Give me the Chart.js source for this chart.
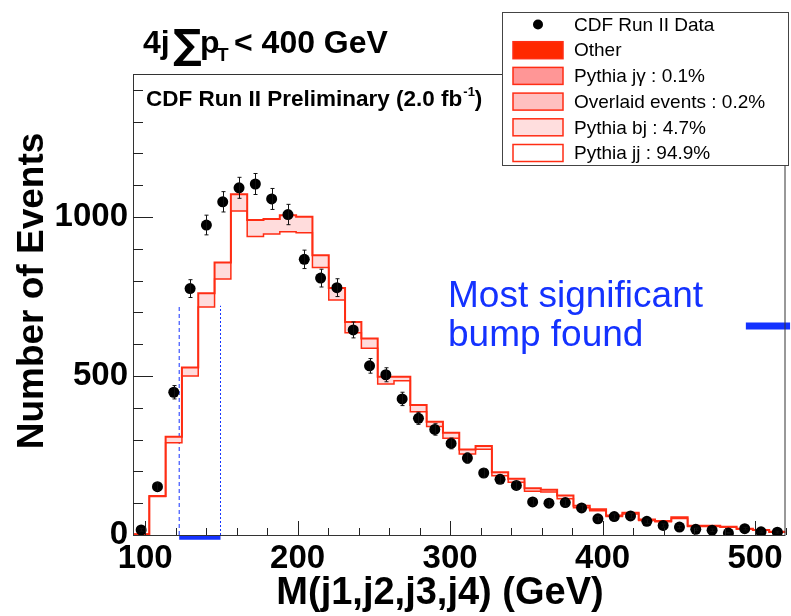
<!DOCTYPE html>
<html>
<head>
<meta charset="utf-8">
<script src="https://cdn.jsdelivr.net/npm/chart.js@4.4.0/dist/chart.umd.min.js"></script>
<style>
  html, body { margin: 0; padding: 0; background: #fff; }
  #wrap { width: 791px; height: 616px; }
</style>
</head>
<body>
<div id="wrap"><canvas id="myChart" width="791" height="616"></canvas></div>
<script>
const FONT = '"Liberation Sans", Arial, Helvetica, sans-serif';

// --- Data ---
// bin edges in GeV (40 bins)
const binEdges = [92, 102.7, 113.4, 124.1, 134.8, 145.5, 156.2, 166.9, 177.6, 188.3,
  199, 209.7, 220.4, 231.1, 241.8, 252.5, 263.2, 273.9, 284.6, 295.3,
  306, 316.7, 327.4, 338.1, 348.8, 359.5, 370.2, 380.9, 391.6, 402.3,
  413, 423.7, 434.4, 445.1, 455.8, 466.5, 477.2, 487.9, 498.6, 509.3, 520];

// CDF Run II data, events per bin, and error bar half-heights
const dataCounts = [16, 152, 449, 775, 975, 1048, 1092, 1104, 1057, 1008,
  867, 808, 778, 645, 532, 504, 428, 367, 332, 288,
  242, 195, 175, 156, 104, 100, 102, 85, 51, 58,
  60, 43, 30, 25, 18, 15, 6, 20, 10, 9];
const dataErrors = [4, 12, 21, 28, 31, 32, 33, 33, 33, 32,
  29, 28, 28, 25, 23, 22, 21, 19, 18, 17,
  16, 14, 13, 12, 10, 10, 10, 9, 7, 8,
  8, 7, 5, 5, 4, 4, 2, 4, 3, 3];

// MC stack: total of all components (top of band) and Pythia jj alone
const mcTotal = [2, 123, 309, 527, 760, 857, 1072, 991, 994, 1006,
  1001, 880, 777, 670, 618, 498, 498, 409, 356, 322,
  269, 280, 197, 177, 147, 142, 124, 92, 81, 61,
  70, 49, 44, 56, 29, 29, 26, 20, 16, 10];
const mcJJ = [2, 121, 290, 500, 717, 805, 1019, 939, 947, 954,
  951, 841, 739, 636, 587, 475, 485, 388, 341, 304,
  255, 270, 186, 166, 138, 135, 114, 86, 76, 58,
  66, 46, 42, 52, 27, 27, 24, 19, 15, 9];

// most significant bump window
const windowEdges = [122.3, 149.4];
const windowTop = 721;
const bumpLevel = 657;
const bumpMarkerX = [494, 523];

const xTickValues = [100, 200, 300, 400, 500];
const yTickValues = [0, 500, 1000];

const legendLabels = ['CDF Run II Data', 'Other', 'Pythia j\u03b3 : 0.1%',
  'Overlaid events : 0.2%', 'Pythia bj : 4.7%', 'Pythia jj : 94.9%'];
const legendFills = [null, 'rgb(255,40,0)', 'rgb(255,150,150)', 'rgb(255,192,192)', 'rgb(255,222,222)', '#ffffff'];

const RED = 'rgb(255,45,20)';
const BLUE = 'rgb(20,50,255)';

// --- helpers ---
function stepPoints(values) {
  const pts = values.map((v, i) => ({ x: binEdges[i], y: v }));
  pts.push({ x: binEdges[values.length], y: values[values.length - 1] });
  return pts;
}
const dataPoints = dataCounts.map((v, i) => ({ x: (binEdges[i] + binEdges[i + 1]) / 2, y: v }));

// --- decorations drawn through the chart scales ---
const decorations = {
  id: 'decorations',
  afterDatasetsDraw(chart) {
    const { ctx, chartArea: a, scales: { x, y } } = chart;
    ctx.save();

    // error bars
    ctx.strokeStyle = '#111';
    ctx.lineWidth = 1;
    dataPoints.forEach((p, i) => {
      const px = Math.round(x.getPixelForValue(p.x)) + 0.5;
      const y1 = y.getPixelForValue(p.y + dataErrors[i]);
      const y2 = y.getPixelForValue(p.y - dataErrors[i]);
      ctx.beginPath();
      ctx.moveTo(px, y1); ctx.lineTo(px, y2);
      ctx.moveTo(px - 2, y1); ctx.lineTo(px + 2, y1);
      ctx.moveTo(px - 2, y2); ctx.lineTo(px + 2, y2);
      ctx.stroke();
    });

    // frame
    ctx.strokeStyle = '#333';
    ctx.lineWidth = 1;
    ctx.strokeRect(a.left + 0.5, a.top + 0.5, a.width - 1, a.height);

    // inward ticks
    ctx.strokeStyle = '#222';
    ctx.beginPath();
    for (let v = 100; v <= 1400; v += 100) {
      const py = Math.round(y.getPixelForValue(v)) + 0.5;
      const len = yTickValues.includes(v) ? 20 : 10;
      ctx.moveTo(a.left, py); ctx.lineTo(a.left + len, py);
    }
    for (let v = 100; v <= 520; v += 20) {
      const px = Math.round(x.getPixelForValue(v)) + 0.5;
      const len = xTickValues.includes(v) ? 14 : 7;
      ctx.moveTo(px, a.bottom); ctx.lineTo(px, a.bottom - len);
    }
    ctx.stroke();
    ctx.restore();
  },
  afterDraw(chart) {
    const { ctx } = chart;
    ctx.save();
    ctx.fillStyle = '#000';
    ctx.textBaseline = 'alphabetic';
    ctx.textAlign = 'left';

    // header: 4j  sum pT < 400 GeV
    ctx.font = 'bold 32px ' + FONT;
    ctx.fillText('4j', 143, 53);
    ctx.font = 'bold 40px "DejaVu Sans", ' + FONT;
    ctx.fillText('\u2211', 173, 58);
    ctx.font = 'bold 32px ' + FONT;
    ctx.fillText('p', 200, 53);
    ctx.font = 'bold 19px ' + FONT;
    ctx.fillText('T', 217, 61);
    ctx.font = 'bold 32px ' + FONT;
    ctx.fillText('< 400 GeV', 234, 53);

    // CDF label
    ctx.font = 'bold 22.5px ' + FONT;
    const cdf = 'CDF Run II Preliminary (2.0 fb';
    ctx.fillText(cdf, 146, 106);
    let cx = 146 + ctx.measureText(cdf).width;
    ctx.font = 'bold 13px ' + FONT;
    ctx.fillText('-1', cx + 1, 96);
    cx += 1 + ctx.measureText('-1').width;
    ctx.font = 'bold 22.5px ' + FONT;
    ctx.fillText(')', cx, 106);

    // bump annotation
    ctx.fillStyle = BLUE;
    ctx.font = '37px ' + FONT;
    ctx.fillText('Most significant', 448, 307);
    ctx.fillText('bump found', 448, 346);

    // axis titles
    ctx.fillStyle = '#000';
    ctx.font = 'bold 38px ' + FONT;
    ctx.textAlign = 'center';
    ctx.fillText('M(j1,j2,j3,j4) (GeV)', 440, 604);
    ctx.save();
    ctx.translate(43, 291);
    ctx.rotate(-Math.PI / 2);
    ctx.font = 'bold 37px ' + FONT;
    ctx.fillText('Number of Events', 0, 0);
    ctx.restore();

    // legend box
    const lx = 502.5, ly = 12.5, lw = 286, lh = 153;
    ctx.fillStyle = '#fff';
    ctx.fillRect(lx, ly, lw, lh);
    ctx.strokeStyle = '#444';
    ctx.lineWidth = 1;
    ctx.strokeRect(lx, ly, lw, lh);
    ctx.font = '19px ' + FONT;
    ctx.textAlign = 'left';
    ctx.textBaseline = 'middle';
    legendLabels.forEach((label, i) => {
      const ry = 24.5 + i * 25.7;
      if (i === 0) {
        ctx.fillStyle = '#000';
        ctx.beginPath();
        ctx.arc(538, ry, 5, 0, Math.PI * 2);
        ctx.fill();
      } else {
        ctx.fillStyle = legendFills[i];
        ctx.fillRect(513, ry - 8.5, 50, 17);
        ctx.strokeStyle = RED;
        ctx.lineWidth = 1.5;
        ctx.strokeRect(513, ry - 8.5, 50, 17);
      }
      ctx.fillStyle = '#000';
      ctx.fillText(label, 574, ry + 1);
    });
    ctx.restore();
  }
};

const ctx = document.getElementById('myChart').getContext('2d');
const chart = new Chart(ctx, {
  type: 'line',
  data: {
    datasets: [
      {
        label: 'CDF Run II Data',
        data: dataPoints,
        showLine: false,
        pointRadius: 5.5,
        pointBackgroundColor: '#000',
        pointBorderWidth: 0,
        order: 0
      },
      {
        label: 'MC total',
        data: stepPoints(mcTotal),
        stepped: true,
        borderColor: RED,
        borderWidth: 2,
        pointRadius: 0,
        fill: '+1',
        backgroundColor: 'rgb(255,220,220)',
        order: 2
      },
      {
        label: 'Pythia jj',
        data: stepPoints(mcJJ),
        stepped: true,
        borderColor: RED,
        borderWidth: 1.5,
        pointRadius: 0,
        fill: false,
        order: 1
      },
      {
        label: 'window low',
        data: [{ x: windowEdges[0], y: 0 }, { x: windowEdges[0], y: windowTop }],
        borderColor: BLUE,
        borderWidth: 1,
        borderDash: [4, 3],
        pointRadius: 0,
        fill: false,
        order: 3
      },
      {
        label: 'window high',
        data: [{ x: windowEdges[1], y: 0 }, { x: windowEdges[1], y: windowTop }],
        borderColor: BLUE,
        borderWidth: 1,
        borderDash: [2, 2],
        pointRadius: 0,
        fill: false,
        order: 3
      },
      {
        label: 'window bar',
        data: [{ x: windowEdges[0], y: -9 }, { x: windowEdges[1], y: -9 }],
        borderColor: BLUE,
        borderWidth: 4,
        pointRadius: 0,
        fill: false,
        clip: false,
        order: 3
      },
      {
        label: 'bump level',
        data: [{ x: bumpMarkerX[0], y: bumpLevel }, { x: bumpMarkerX[1], y: bumpLevel }],
        borderColor: BLUE,
        borderWidth: 7,
        pointRadius: 0,
        fill: false,
        clip: false,
        order: 3
      }
    ]
  },
  options: {
    responsive: false,
    animation: false,
    devicePixelRatio: 1,
    layout: { padding: { left: 0, top: 74, right: 3, bottom: 0 } },
    plugins: {
      legend: { display: false },
      tooltip: { enabled: false }
    },
    scales: {
      x: {
        type: 'linear',
        min: 92,
        max: 520,
        grid: { display: false, drawTicks: false },
        border: { display: false },
        afterBuildTicks: (scale) => { scale.ticks = xTickValues.map(v => ({ value: v })); },
        afterFit: (scale) => { scale.height = 81; },
        ticks: {
          padding: 4,
          color: '#000',
          maxRotation: 0,
          autoSkip: false,
          callback: (v) => String(v),
          font: { family: FONT, size: 33, weight: 'bold' }
        }
      },
      y: {
        min: 0,
        max: 1450,
        grid: { display: false, drawTicks: false },
        border: { display: false },
        afterBuildTicks: (scale) => { scale.ticks = yTickValues.map(v => ({ value: v })); },
        afterFit: (scale) => { scale.width = 133; },
        ticks: {
          padding: 5,
          color: '#000',
          callback: (v) => String(v),
          font: { family: FONT, size: 33, weight: 'bold' }
        }
      }
    }
  },
  plugins: [decorations]
});
</script>
</body>
</html>
